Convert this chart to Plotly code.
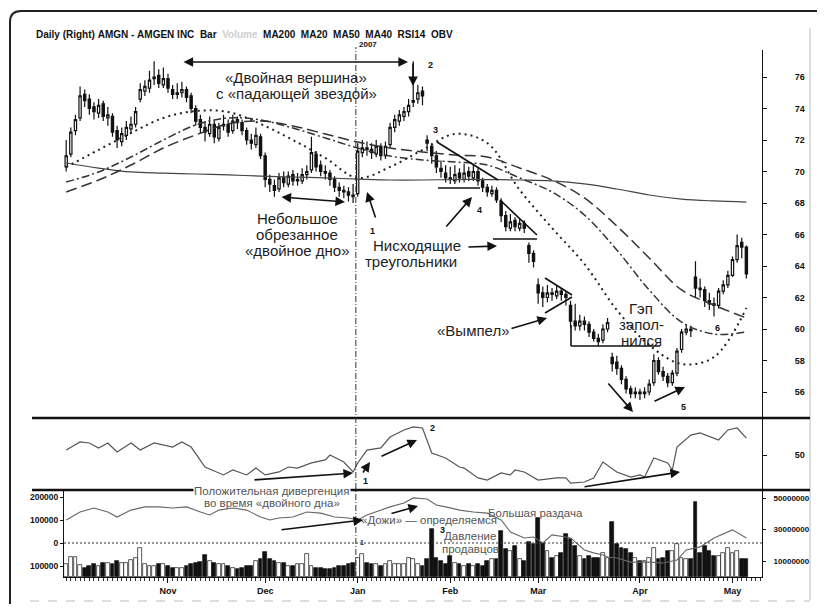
import plotly.graph_objects as go

# ---------------- data ----------------
# trading-day index 0 = 2 Oct 2006 ... 147 = 4 May 2007
month_labels = ["Nov", "Dec", "Jan", "Feb", "Mar", "Apr", "May"]
month_idx = [22, 43, 63, 83, 102, 124, 144]

opens = [70.3,71.1,72.6,73.4,74.9,74.6,74.1,73.7,74.3,73.4,
         73.5,72.6,71.9,72.3,72.7,73.0,74.6,75.1,75.3,75.9,
         76.1,75.5,75.9,75.2,74.9,75.0,75.2,74.8,74.0,73.3,
         72.8,72.4,73.0,72.1,72.9,73.0,72.6,73.3,73.1,72.6,
         72.0,71.7,72.2,71.0,69.5,69.1,68.9,69.6,69.2,69.8,
         69.4,69.4,69.8,70.1,71.1,70.4,70.0,69.9,69.5,69.0,
         68.8,68.7,68.5,68.6,71.2,71.5,71.4,71.1,71.6,71.0,
         71.7,72.8,73.2,73.5,73.8,74.4,74.6,75.1,72.0,71.6,
         71.0,70.2,69.9,69.6,69.4,69.9,69.5,70.0,69.6,70.0,
         69.4,69.0,68.6,68.8,68.1,67.2,66.4,66.9,66.4,66.7,
         65.3,64.8,62.8,62.3,62.0,62.3,62.1,62.4,62.2,61.5,
         60.5,60.2,60.5,60.3,59.8,59.4,59.3,60.0,58.2,57.9,
         57.5,56.8,56.2,55.9,56.0,55.9,56.0,56.6,58.0,57.3,
         57.0,56.6,57.2,58.7,59.8,60.0,63.3,62.6,62.5,61.8,
         61.6,61.5,62.4,62.8,63.4,64.4,65.5,65.2]
highs = [72.0,72.8,73.6,75.4,75.2,74.9,74.4,74.6,74.5,74.1,
         73.7,72.9,72.8,73.2,73.5,74.1,75.6,75.8,76.4,77.0,
         76.5,76.6,76.2,75.5,75.6,75.7,75.4,75.0,74.2,73.6,
         73.2,73.5,73.2,73.1,73.6,73.3,73.6,73.5,73.3,72.8,
         72.4,72.8,72.4,71.2,69.8,69.5,69.9,70.0,70.0,70.1,
         69.9,70.2,70.4,72.2,71.3,70.7,70.4,70.1,69.7,69.3,
         69.1,69.0,69.2,71.8,72.0,71.9,71.8,72.0,71.8,71.9,
         73.1,73.6,73.9,74.1,74.6,77.0,75.5,75.4,72.3,71.8,
         71.3,70.7,70.4,70.3,70.4,70.2,70.5,70.3,70.5,70.2,
         69.6,69.2,69.1,69.0,68.3,67.5,67.3,67.1,67.0,66.9,
         65.5,65.0,63.2,62.7,62.8,62.6,62.8,62.6,62.4,61.8,
         61.6,60.9,60.8,60.5,60.0,59.7,60.3,60.7,58.5,58.3,
         57.7,57.0,56.4,56.3,56.2,56.3,56.8,58.4,58.2,57.6,
         57.2,57.4,58.8,60.0,60.3,60.2,64.3,63.2,62.7,62.3,
         62.0,62.6,63.1,63.7,64.6,66.0,65.8,65.3]
lows = [70.0,70.9,72.3,73.2,74.1,73.6,73.3,73.4,73.2,72.9,
        72.2,71.5,71.6,72.0,72.4,72.8,74.4,74.8,75.0,75.5,
        75.3,75.3,75.0,74.6,74.6,74.7,74.4,73.7,72.9,72.4,
        71.9,72.2,71.8,71.9,72.6,72.2,72.4,72.7,72.3,71.7,
        71.4,71.5,70.8,69.0,68.7,68.4,68.7,69.0,69.0,69.1,
        69.1,69.2,69.5,69.9,70.0,69.7,69.5,69.1,68.7,68.4,
        68.3,68.1,68.0,68.4,70.9,71.0,70.8,70.9,70.7,70.8,
        71.5,72.5,72.9,73.2,73.5,74.1,74.3,74.2,71.3,70.5,
        69.9,69.6,69.3,69.2,69.2,69.3,69.3,69.4,69.4,69.1,
        68.7,68.4,68.4,68.0,66.8,66.2,66.2,66.2,66.2,66.1,
        64.2,63.9,61.6,61.4,61.7,61.8,61.9,61.8,61.5,60.1,
        59.9,59.9,59.9,59.5,59.2,58.9,59.1,59.8,57.3,57.1,
        56.5,55.9,55.6,55.6,55.5,55.6,55.8,56.4,57.1,56.7,
        56.3,56.4,57.0,58.5,59.6,59.5,62.0,62.0,61.4,61.2,
        60.8,61.3,62.2,62.6,63.3,64.2,64.5,63.2]
closes = [71.0,72.5,73.3,74.8,74.5,74.0,73.8,74.2,73.5,73.6,
          72.5,72.0,72.4,72.8,73.0,73.8,75.2,75.4,75.8,76.0,
          75.6,75.9,75.3,74.9,75.0,75.2,74.7,74.0,73.2,72.8,
          72.5,73.0,72.2,72.8,73.0,72.5,73.2,73.1,72.6,72.0,
          71.8,72.3,71.0,69.5,69.2,68.8,69.6,69.3,69.7,69.4,
          69.5,69.8,70.0,71.2,70.3,70.0,69.9,69.5,69.0,68.8,
          68.7,68.5,68.4,71.3,71.5,71.4,71.2,71.6,71.0,71.6,
          72.8,73.3,73.6,73.8,74.2,74.5,75.0,74.8,71.8,71.0,
          70.3,70.0,69.6,69.5,69.8,69.6,69.9,69.7,70.0,69.4,
          69.0,68.7,68.8,68.2,67.2,66.5,66.8,66.5,66.7,66.4,
          64.8,64.3,62.3,62.0,62.3,62.2,62.4,62.2,62.0,60.5,
          60.2,60.5,60.3,59.8,59.4,59.2,60.0,60.4,57.8,57.5,
          56.8,56.2,55.9,56.0,55.9,56.0,56.5,58.0,57.3,57.0,
          56.6,57.2,58.6,59.8,60.0,59.9,62.6,62.5,61.8,61.6,
          61.5,62.4,62.8,63.4,64.4,65.3,65.2,63.5]
volume_m = [8.1,12.6,12.6,7.5,5.5,6.8,8.1,6.8,8.7,8.7,
            8.1,10.0,8.7,8.7,10.5,11.9,18.4,8.1,6.8,6.8,
            8.1,8.1,6.8,5.5,5.5,5.5,6.8,8.1,8.7,9.5,
            14.0,10.0,8.7,8.1,8.1,6.8,5.5,4.8,5.5,6.8,
            6.8,10.0,11.3,15.8,11.3,10.0,8.7,8.7,6.8,6.8,
            8.1,8.1,14.5,6.8,5.5,5.5,4.8,4.8,5.5,6.8,
            6.8,8.1,8.7,11.9,14.5,8.7,8.1,8.1,6.8,8.1,
            10.0,8.1,8.1,8.1,11.9,11.3,8.1,6.8,11.3,30.6,
            12.0,10.0,8.1,13.2,8.7,8.1,6.8,8.1,6.8,8.1,
            6.8,10.0,11.3,11.3,29.4,17.7,16.5,19.7,11.3,10.0,
            22.0,21.0,37.1,21.6,16.5,11.9,13.2,15.2,27.4,24.2,
            19.7,13.2,11.3,13.2,11.9,11.9,15.2,11.9,34.5,21.0,
            18.4,17.7,15.2,12.0,10.0,10.0,11.9,18.4,11.3,11.9,
            16.5,16.5,21.0,11.9,11.3,11.3,47.4,15.2,19.7,16.5,
            13.2,13.2,15.2,18.4,15.2,16.5,11.3,11.3]

ma_idx = [0,7,14,21,28,35,42,49,56,63,70,77,84,91,98,105,112,119,126,133,140,147]
ma200 = [70.54,70.22,69.97,69.90,69.84,69.78,69.71,69.65,69.59,69.52,69.46,
         69.46,69.49,69.49,69.46,69.40,69.21,68.89,68.51,68.25,68.13,68.06]
ma20 = [70.29,71.37,72.44,73.40,73.84,73.78,73.02,72.00,70.86,69.59,70.29,
        71.37,72.38,71.81,68.83,66.41,64.13,61.21,58.98,57.78,58.22,61.33]
ma50 = [68.70,69.46,70.41,71.49,72.32,73.02,73.21,72.89,72.38,71.87,71.49,
        71.24,71.05,70.92,70.22,69.46,68.32,66.54,64.51,62.48,61.52,60.70]
ma40 = [69.33,69.97,70.92,72.00,72.95,73.40,73.27,72.76,72.13,71.49,70.98,
        70.73,70.60,70.41,69.59,68.70,67.24,65.02,62.48,60.44,59.68,59.81]

rsi_idx = [0,3,5,7,9,11,14,16,19,23,25,27,30,34,36,39,41,43,46,48,50,53,56,57,60,
           62,63,65,68,70,73,75,77,79,82,85,86,89,91,94,96,97,99,102,106,108,109,
           112,114,116,119,122,124,125,127,130,131,132,135,137,141,143,145,147]
rsi_val = [53.3,58.7,58.0,54.7,58.0,52.0,58.0,53.3,58.0,55.3,58.7,55.3,42.0,36.7,40.0,
           36.7,41.3,36.7,38.7,42.0,41.3,44.7,46.7,50.0,45.3,38.7,44.7,53.3,54.7,62.0,
           66.7,68.7,68.0,51.3,48.0,42.0,41.3,34.7,33.3,38.0,36.7,40.0,38.7,33.3,34.7,
           34.7,31.3,32.0,34.7,45.3,38.7,35.3,36.7,35.3,48.0,44.7,40.0,55.3,63.3,64.7,
           60.0,66.7,68.0,61.3]

obv_idx = [0,3,6,9,11,14,17,20,23,26,29,31,33,36,39,42,44,46,49,52,55,58,61,63,65,
           68,70,73,75,78,80,82,85,88,91,94,96,99,101,103,105,108,109,112,114,116,
           117,119,122,126,129,132,134,137,140,144,147]
obv_val = [100000,135000,152000,135000,113000,143000,157000,157000,152000,157000,
           135000,122000,143000,152000,143000,113000,100000,109000,113000,135000,
           130000,113000,109000,100000,122000,143000,157000,174000,196000,191000,
           165000,157000,143000,135000,130000,100000,48000,22000,26000,0,
           35000,26000,22000,-30000,-43000,-52000,-61000,-65000,-83000,-83000,
           -87000,-74000,-30000,-17000,22000,57000,22000]

price_ticks = [56, 58, 60, 62, 64, 66, 68, 70, 72, 74, 76]
vol_ticks_m = [10, 30, 50]
vol_tick_text = ["10000000", "30000000", "50000000"]
obv_ticks = [-100000, 0, 100000, 200000]
obv_tick_text = ["100000", "0", "100000", "200000"]

# ---------------- layout calibration (page pixels of the 825x612 window) ----------------
OFF = 8                     # default body margin of the html page
FIG_W, FIG_H = 825 - OFF, 612 - 2 * OFF
PL, PR, PT, PB = 64, 762, 50, 577
def ix(px): return (px - 66.2) / 4.627
def pp(py): return 76 - (py - 77) / 15.75
def rr(py): return 50 + (455 - py) / 1.5
def oo(py): return (543 - py) / 23 * 1e5
def xp(px): return (px - PL) / (PR - PL)
def yp(py): return (PB - py) / (PB - PT)

FONT = "Liberation Sans, Arial, sans-serif"
N = len(closes)
xs = list(range(N))

fig = go.Figure()
fig.add_trace(go.Candlestick(
    x=xs, open=opens, high=highs, low=lows, close=closes,
    increasing=dict(line=dict(color="#111", width=1.2), fillcolor="white"),
    decreasing=dict(line=dict(color="#111", width=1.2), fillcolor="#111"),
    whiskerwidth=0, xaxis="x", yaxis="y", name="AMGN"))
fig.add_trace(go.Scatter(x=ma_idx, y=ma200, mode="lines", yaxis="y",
                         line=dict(color="#444", width=1.2, shape="spline"), name="MA200"))
fig.add_trace(go.Scatter(x=ma_idx, y=ma20, mode="lines", yaxis="y",
                         line=dict(color="#222", width=2, dash="2px,4px", shape="spline"), name="MA20"))
fig.add_trace(go.Scatter(x=ma_idx, y=ma50, mode="lines", yaxis="y",
                         line=dict(color="#333", width=1.5, dash="11px,5px", shape="spline"), name="MA50"))
fig.add_trace(go.Scatter(x=ma_idx, y=ma40, mode="lines", yaxis="y",
                         line=dict(color="#333", width=1.5, dash="8px,3px,2px,3px", shape="spline"), name="MA40"))
fig.add_trace(go.Scatter(x=rsi_idx, y=rsi_val, mode="lines", yaxis="y2",
                         line=dict(color="#555", width=1.2), name="RSI14"))

bar_colors = ["#111" if c < o else "white" for o, c in zip(opens, closes)]
fig.add_trace(go.Bar(x=xs, y=volume_m, yaxis="y3", width=0.82,
                     marker=dict(color=bar_colors, line=dict(color="#111", width=0.7)),
                     name="Volume"))
fig.add_trace(go.Scatter(x=obv_idx, y=obv_val, mode="lines", yaxis="y4",
                         line=dict(color="#666", width=1.1), name="OBV"))

tickfont = dict(family=FONT, size=9, color="#111", weight="bold")
fig.update_layout(
    width=FIG_W, height=FIG_H,
    margin=dict(l=PL - OFF, r=FIG_W - (PR - OFF), t=PT - OFF, b=FIG_H - (PB - OFF), autoexpand=False),
    paper_bgcolor="white", plot_bgcolor="white",
    showlegend=False, bargap=0,
    font=dict(family=FONT, color="#111"),
    xaxis=dict(range=[ix(PL), ix(PR)], anchor="y3", rangeslider=dict(visible=False),
               tickmode="array", tickvals=month_idx, ticktext=month_labels,
               ticks="outside", ticklen=5, tickcolor="#111", tickfont=tickfont,
               minor=dict(tickmode="linear", tick0=0, dtick=1, ticks="outside",
                          ticklen=3, tickcolor="#333"),
               showline=True, linecolor="#111", linewidth=1,
               showgrid=False, zeroline=False),
    yaxis=dict(domain=[yp(418), 1.0], range=[pp(418), pp(50)], side="right",
               tickvals=price_ticks, ticks="outside", ticklen=4, tickcolor="#111",
               tickfont=tickfont, ticklabelstandoff=26,
               showline=True, linecolor="#111", linewidth=1,
               showgrid=False, zeroline=False),
    yaxis2=dict(domain=[yp(490), yp(418)], range=[rr(490), rr(418)], side="right",
                tickvals=[50], ticks="outside", ticklen=4, tickcolor="#111",
                tickfont=tickfont, ticklabelstandoff=26,
                showline=True, linecolor="#111", linewidth=1,
                showgrid=False, zeroline=False),
    yaxis3=dict(domain=[0, yp(490)], range=[0, (PB - 490) / 1.58], side="right",
                tickvals=vol_ticks_m, ticktext=vol_tick_text, ticks="outside", ticklen=3,
                tickcolor="#111", tickfont=dict(family=FONT, size=8, color="#111", weight="bold"),
                ticklabelstandoff=6, showline=True, linecolor="#111", linewidth=1,
                showgrid=False, zeroline=False),
    yaxis4=dict(overlaying="y3", side="left", range=[oo(PB), oo(490)],
                tickvals=obv_ticks, ticktext=obv_tick_text, ticks="outside", ticklen=3,
                tickcolor="#111", tickfont=dict(family=FONT, size=8.5, color="#111", weight="bold"),
                showline=True, linecolor="#111", linewidth=1,
                showgrid=False, zeroline=False),
)

shapes = []
# frame
shapes.append(dict(type="path", xref="paper", yref="paper",
                   path=f"M {xp(10)},{yp(604)} L {xp(10)},{yp(22)} Q {xp(10)},{yp(11)} {xp(21)},{yp(11)} L {xp(825)},{yp(11)}",
                   line=dict(color="#222", width=2)))
shapes.append(dict(type="line", xref="paper", yref="paper", x0=xp(810), x1=xp(810),
                   y0=yp(28), y1=yp(600), line=dict(color="#bbb", width=1)))
shapes.append(dict(type="line", xref="paper", yref="paper", x0=xp(30), x1=xp(810),
                   y0=yp(601), y1=yp(601), line=dict(color="#bbb", width=1, dash="dash")))
# panel separators
for py in (418, 490):
    shapes.append(dict(type="line", xref="paper", yref="paper", x0=xp(32), x1=xp(810),
                       y0=yp(py), y1=yp(py), line=dict(color="#111", width=2.6)))
# year boundary
shapes.append(dict(type="line", xref="x", yref="paper", x0=month_idx[2] - 0.4, x1=month_idx[2] - 0.4,
                   y0=0, y1=yp(47), line=dict(color="#333", width=1, dash="6px,2px,1px,2px")))
# OBV zero line
shapes.append(dict(type="line", xref="paper", yref="y4", x0=0, x1=1, y0=0, y1=0,
                   line=dict(color="#333", width=1, dash="2px,2px")))
# pattern lines on price panel (page pixel positions -> data)
seg = [((437, 142), (498, 180)), ((438, 188), (480, 188)),
       ((500, 200), (537, 235)), ((493, 239), (537, 239)),
       ((545, 278), (572, 295)), ((545, 313), (572, 297)),
       ((571, 346), (660, 346)), ((571, 325), (571, 346))]
for (a, b) in seg:
    shapes.append(dict(type="line", xref="x", yref="y", x0=ix(a[0]), y0=pp(a[1]),
                       x1=ix(b[0]), y1=pp(b[1]), line=dict(color="#111", width=1.6)))
fig.update_layout(shapes=shapes)

ann = []
BIG = dict(family=FONT, size=15, color="#1e1e1e")
MID = dict(family=FONT, size=11.5, color="#555")
NUM = dict(family=FONT, size=9, color="#111", weight="bold")

def txt(s, px, py, font, yref="y", conv=pp, bg=None, xanchor="center"):
    d = dict(text=s, x=ix(px), y=conv(py), xref="x", yref=yref, showarrow=False,
             font=font, xanchor=xanchor, yanchor="middle", borderpad=0)
    if bg:
        d["bgcolor"] = bg
    ann.append(d)

def arrow(head, tail, yref="y", conv=pp, both=False, w=1.6):
    ann.append(dict(text="", x=ix(head[0]), y=conv(head[1]), ax=ix(tail[0]), ay=conv(tail[1]),
                    xref="x", yref=yref, axref="x", ayref=yref, showarrow=True,
                    arrowhead=2, arrowsize=1.2, arrowwidth=w, arrowcolor="#111",
                    arrowside="end+start" if both else "end", standoff=0, startstandoff=0))

# title line
ann.append(dict(text="Daily\u00a0(Right)\u00a0AMGN\u00a0-\u00a0AMGEN\u00a0INC\u00a0\u00a0Bar\u00a0\u00a0"
                     "<span style='color:#cfcfcf'>Volume</span>\u00a0\u00a0MA200\u00a0\u00a0MA20\u00a0\u00a0"
                     "MA50\u00a0\u00a0MA40\u00a0\u00a0RSI14\u00a0\u00a0OBV",
                x=xp(35), y=yp(35), xref="paper", yref="paper", showarrow=False, borderpad=0,
                xanchor="left", yanchor="middle", font=dict(family=FONT, size=10, color="#111", weight="bold")))
ann.append(dict(text="2007", x=xp(368), y=yp(45), xref="paper", yref="paper", showarrow=False,
                xanchor="center", yanchor="middle", borderpad=0,
                font=dict(family=FONT, size=8, color="#111", weight="bold")))

# price panel texts
txt("«Двойная вершина»", 296, 77, BIG)
txt("с «падающей звездой»", 296, 93, BIG)
txt("Небольшое", 297, 218, BIG)
txt("обрезанное", 297, 234, BIG)
txt("«двойное дно»", 297, 250, BIG)
txt("Нисходящие", 417, 245, BIG)
txt("треугольники", 411, 261, BIG)
txt("«Вымпел»", 473, 330, BIG)
txt("Гэп", 641, 308, BIG)
txt("запол-", 641, 324, BIG)
txt("нился", 641, 340, BIG)
for s, px, py in [("2", 430, 65), ("3", 435, 130), ("4", 479, 210),
                  ("1", 372, 231), ("5", 683, 407), ("6", 717, 328)]:
    txt(s, px, py, NUM)
arrow((408, 62), (182, 62), both=True)
arrow((413, 86), (413, 62))
arrow((472, 197), (445, 228))
arrow((367, 192), (376, 219))
arrow((497, 246), (467, 247))
arrow((345, 202), (280, 197), both=True)
arrow((547, 318), (510, 329))
arrow((633, 412), (607, 382))
arrow((685, 387), (653, 402))

# RSI panel
arrow((353, 473), (253, 480), yref="y2", conv=rr)
arrow((370, 462), (362, 474), yref="y2", conv=rr)
arrow((417, 440), (380, 457), yref="y2", conv=rr)
arrow((680, 472), (583, 487), yref="y2", conv=rr)
txt("1", 365, 481, NUM, yref="y2", conv=rr)
txt("2", 432, 428, NUM, yref="y2", conv=rr)

# volume / OBV panel
txt("Положительная дивергенция", 272, 491, MID, yref="y4", conv=oo, bg="white")
txt("во время «двойного дна»", 272, 503, MID, yref="y4", conv=oo)
txt("«Дожи» — определяемся", 429, 520, MID, yref="y4", conv=oo)
txt("Большая раздача", 535, 513, MID, yref="y4", conv=oo)
txt("Давление", 470, 536, MID, yref="y4", conv=oo)
txt("продавцов", 470, 549, MID, yref="y4", conv=oo)
txt("3", 442, 530, NUM, yref="y4", conv=oo)
txt("1", 362, 542, dict(family=FONT, size=7, color="#333", weight="bold"), yref="y4", conv=oo)
arrow((363, 520), (280, 530), yref="y4", conv=oo)
arrow((418, 506), (390, 514), yref="y4", conv=oo)

fig.update_layout(annotations=ann)
fig.write_html("out.html")
